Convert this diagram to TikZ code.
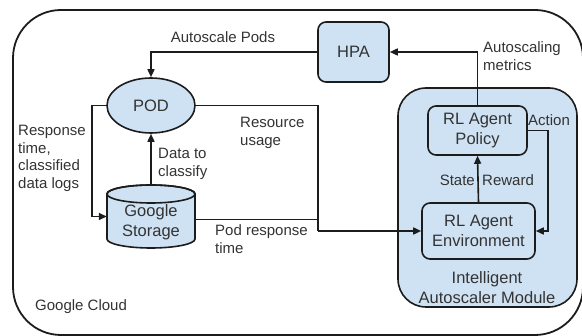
\documentclass[tikz,border=0pt]{standalone}
\usepackage{fontspec}
\setmainfont{Liberation Sans}
\usetikzlibrary{shapes.geometric,arrows.meta}
\definecolor{boxblue}{HTML}{CFE2F3}
\definecolor{ink}{HTML}{1C1C1C}
\definecolor{txt}{HTML}{333333}
\tikzset{
  wire/.style={draw=ink, line width=1.6pt},
  arrowed/.style={wire, -{Triangle[length=8pt,width=7pt]}},
  blockbox/.style={draw=ink, line width=1.6pt, fill=boxblue, rounded corners=8pt,
    align=center, text=txt, font=\fontsize{16.5}{20}\selectfont, inner sep=0pt},
  lbl/.style={text=txt, font=\fontsize{15}{17.5}\selectfont, inner sep=0pt, align=left},
}
\begin{document}
\begin{tikzpicture}[x=1pt,y=-1pt]
  \useasboundingbox (0,0) rectangle (582,336);
  \begin{scope}
    \clip (0,0) rectangle (582,336);
    % outer cloud frame
    \draw[draw=ink, line width=1.8pt, rounded corners=48pt] (13,10) rectangle (583,335);
  \end{scope}
  \node[lbl, anchor=west] (gcl) at (35,307) {Google Cloud};

  % autoscaler module container
  \node[draw=ink, line width=1.6pt, fill=boxblue, rounded corners=28pt,
        minimum width=179pt, minimum height=219pt, inner sep=0pt] (mod) at (487.5,197.5) {};
  \node[lbl, align=center, font=\fontsize{16.5}{20}\selectfont] (modl) at (487,288) {Intelligent\\Autoscaler Module};

  % blocks
  \node[blockbox, minimum width=71pt, minimum height=60pt] (hpa) at (353.5,52) {HPA};
  \node[blockbox, minimum width=99pt, minimum height=49pt] (pol) at (477.5,130.5) {RL Agent\\Policy};
  \node[blockbox, minimum width=113pt, minimum height=56pt] (env) at (478.5,231) {RL Agent\\Environment};
  \node[draw=ink, line width=1.6pt, fill=boxblue, ellipse, minimum width=88pt, minimum height=55pt,
        inner sep=0pt, text=txt, font=\fontsize{16.5}{20}\selectfont] (pod) at (151,105.5) {POD};

  % storage drum: body with bottom rim, then the open top ellipse
  \node[minimum width=88pt, minimum height=64pt, inner sep=0pt] (gs) at (151,216.5) {};
  \draw[draw=ink, line width=1.6pt, fill=boxblue]
    (107,194) -- (107,239) arc[start angle=180, end angle=360, x radius=44pt, y radius=9pt]
    -- (195,194) arc[start angle=0, end angle=180, x radius=44pt, y radius=9pt] -- cycle;
  \draw[draw=ink, line width=1.6pt] (151,194) ellipse [x radius=44pt, y radius=9pt];
  \node[lbl, align=center, font=\fontsize{16.5}{20}\selectfont] (gst) at (151,222) {Google\\Storage};

  % routing points
  \coordinate (bus) at (318,231);
  \coordinate (lft) at (92,160);
  \coordinate (act) at (548,180);

  % connectors
  \draw[arrowed] (hpa.west) -| (pod.north);
  \draw[arrowed] (pol.north) |- (hpa.east);
  \draw[wire] (pod.east) -| (bus);
  \draw[arrowed] (bus) -- (env.west);
  \draw[wire] ([yshift=-3pt]gs.east) -- ([yshift=-3pt]gs.east -| bus);
  \draw[arrowed] (pod.west) -| (lft) |- (gs.west);
  \draw[arrowed] (gs.north) -- (pod.south);
  \draw[arrowed] (pol.east) -| (act) |- (env.east);
  \draw[arrowed] (env.north) -- (pol.south);

  % connector labels
  \node[lbl] (l1) at (223,37) {Autoscale Pods};
  \node[lbl, anchor=west] (l2) at (240,133) {Resource\\usage};
  \node[lbl, anchor=west] (l3) at (18,158.5) {Response\\time,\\classified\\data logs};
  \node[lbl, anchor=west] (l4) at (158,164) {Data to\\classify};
  \node[lbl, anchor=west] (l5) at (215,239) {Pod response\\time};
  \node[lbl, anchor=west] (l6) at (483,56) {Autoscaling\\metrics};
  \node[lbl] (l7) at (549,120) {Action};
  \node[lbl, anchor=east] (l8) at (475,180) {State};
  \node[lbl, anchor=west] (l9) at (482,180) {Reward};
\end{tikzpicture}
\end{document}
